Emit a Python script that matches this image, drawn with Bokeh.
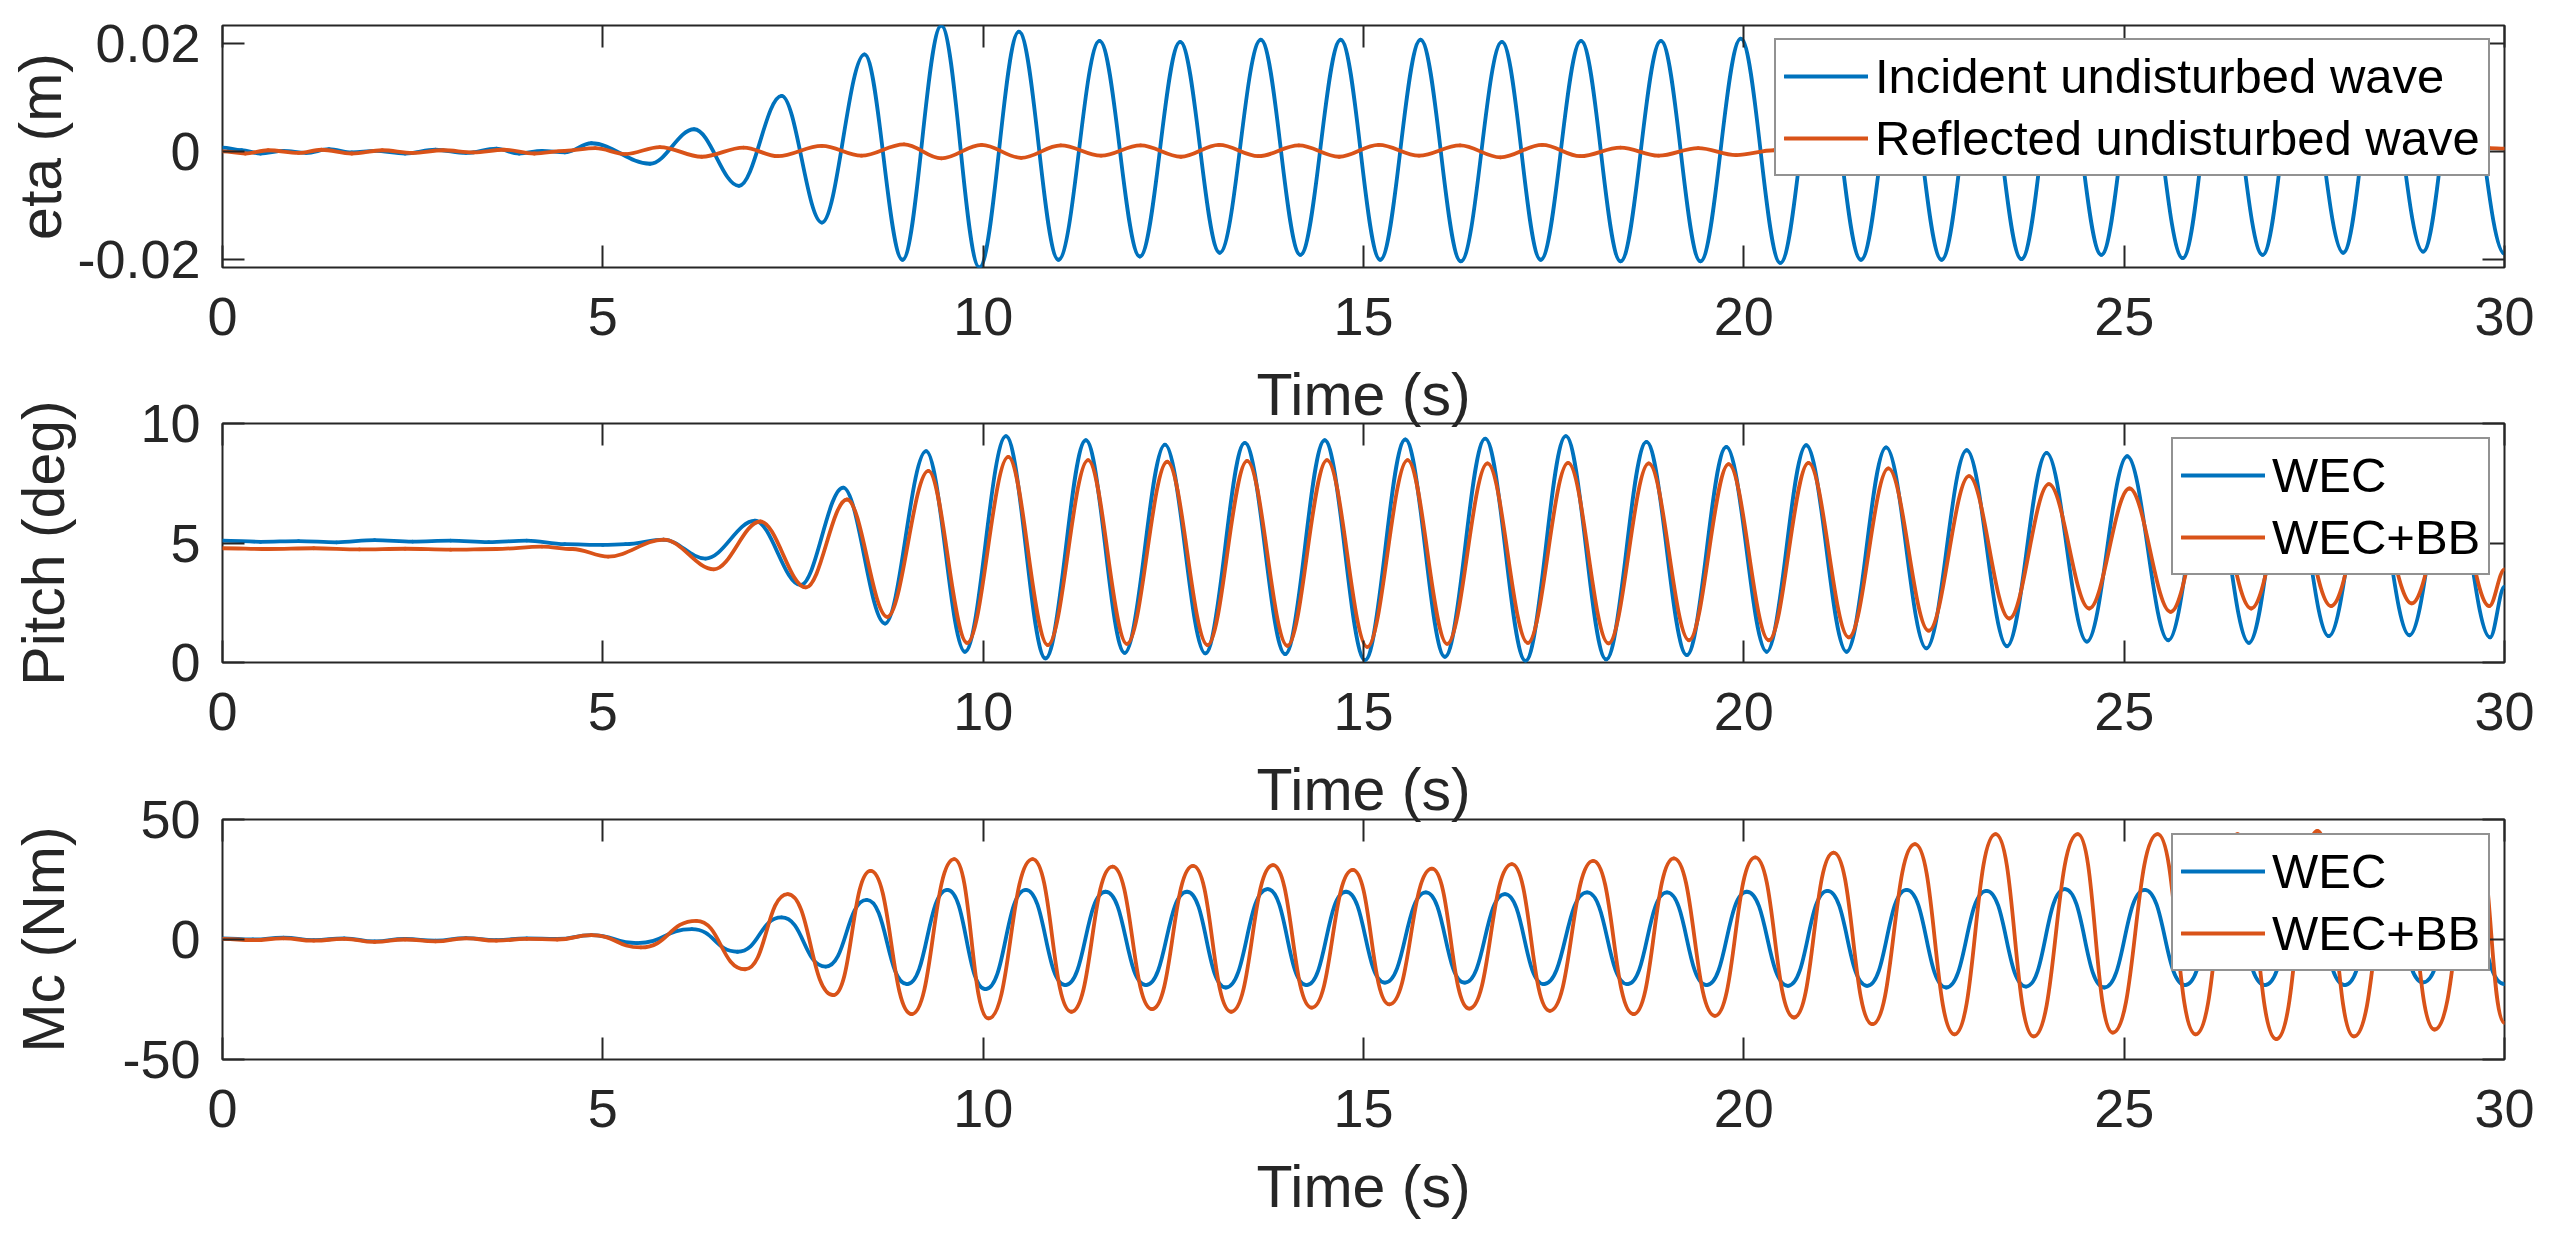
import numpy as np
from bokeh.plotting import figure
from bokeh.models import LinearAxis, FixedTicker, Legend, LegendItem, Range1d, ColumnDataSource
from bokeh.layouts import column
from bokeh.embed import file_html
from bokeh.resources import INLINE

# ---------------- data ----------------
X_TICKS = [0, 5, 10, 15, 20, 25, 30]

# Panel 1 : eta (m)
INC_T = [0.0, 0.25, 0.5, 0.8, 1.1, 1.4, 1.7, 2.0, 2.4, 2.8, 3.2, 3.6, 3.9, 4.2, 4.5,
         4.85, 5.62, 6.2, 6.79, 7.35, 7.88, 8.44, 8.94, 9.45, 9.95, 10.47, 10.99, 11.53, 12.06,
         12.59, 13.11, 13.65, 14.17, 14.70, 15.22, 15.75, 16.28, 16.82, 17.33, 17.86, 18.38,
         18.91, 19.43, 19.96, 20.48, 21.01, 21.54, 22.07, 22.60, 23.12, 23.65, 24.17, 24.70,
         25.22, 25.77, 26.28, 26.82, 27.33, 27.88, 28.38, 28.93, 29.43, 30.0]
INC_V = [0.0007, 0.0002, -0.0004, 0.0001, -0.0003, 0.0004, -0.0002, 0.0001, -0.0004, 0.0003,
         -0.0003, 0.0005, -0.0004, 0.0001, -0.0002,
         0.0015, -0.0023, 0.0041, -0.0064, 0.0103, -0.0132, 0.0180, -0.0201,
         0.0233, -0.0215, 0.0222, -0.0201, 0.0205, -0.0195, 0.0203, -0.0188,
         0.0207, -0.0192, 0.0207, -0.0201, 0.0207, -0.0204, 0.0203, -0.0201,
         0.0205, -0.0204, 0.0205, -0.0204, 0.0209, -0.0207, 0.0206, -0.0201,
         0.0205, -0.0201, 0.0205, -0.0200, 0.0205, -0.0192, 0.0205, -0.0198,
         0.0205, -0.0192, 0.0205, -0.0188, 0.0204, -0.0186, 0.0203, -0.0190]
REF_T = [0.0, 0.3, 0.6, 1.0, 1.3, 1.7, 2.1, 2.5, 2.9, 3.3, 3.7, 4.1, 4.5, 4.9, 5.3,
         5.75, 6.3, 6.85, 7.3, 7.88, 8.4, 8.96, 9.45, 9.98, 10.5,
         11.02, 11.55, 12.07, 12.6, 13.1, 13.62, 14.15, 14.68, 15.2, 15.73,
         16.27, 16.8, 17.35, 17.85, 18.38, 18.88, 19.4, 19.9, 20.4, 20.95,
         21.5, 22.0, 22.5, 23.05, 23.6, 24.1, 24.65, 25.2, 25.7, 26.25,
         26.75, 27.3, 27.8, 28.35, 28.9, 29.4, 29.8, 30.0]
REF_V = [0.0000, -0.0004, 0.0002, -0.0003, 0.0003, -0.0004, 0.0002, -0.0003, 0.0002, -0.0002,
         0.0003, -0.0004, 0.0001, 0.0006, -0.0005,
         0.0008, -0.0010, 0.0007, -0.0009, 0.0010, -0.0008, 0.0013, -0.0013, 0.0012, -0.0012,
         0.0011, -0.0008, 0.0011, -0.0010, 0.0012, -0.0009, 0.0011, -0.0010, 0.0012, -0.0008,
         0.0011, -0.0011, 0.0012, -0.0009, 0.0007, -0.0008, 0.0006, -0.0007, 0.0002, -0.0004,
         0.0003, -0.0004, 0.0003, -0.0004, 0.0003, -0.0004, 0.0003, -0.0004, 0.0003, -0.0004,
         0.0003, -0.0004, 0.0003, -0.0004, 0.0003, -0.0002, 0.0006, 0.0005]

# Panel 2 : Pitch (deg)
PW_T = [0.0, 0.5, 1.0, 1.5, 2.0, 2.5, 3.0, 3.5, 4.0, 4.5, 5.0, 5.3,
        5.8, 6.35, 7.0, 7.6, 8.16, 8.71, 9.25, 9.76,
        10.3, 10.82, 11.35, 11.86, 12.39, 12.92, 13.44, 13.97,
        14.49, 15.02, 15.55, 16.07, 16.6, 17.13, 17.66, 18.19,
        18.72, 19.25, 19.77, 20.3, 20.82, 21.35, 21.87, 22.4,
        22.93, 23.46, 23.98, 24.51, 25.04, 25.58, 26.11, 26.64,
        27.16, 27.69, 28.22, 28.75, 29.28, 29.81, 30.0]
PW_V = [5.10, 5.05, 5.08, 5.03, 5.12, 5.06, 5.10, 5.04, 5.10, 4.95, 4.92, 4.95,
        5.14, 4.35, 5.93, 3.24, 7.32, 1.63, 8.84, 0.45,
        9.47, 0.17, 9.30, 0.40, 9.12, 0.38, 9.19, 0.35,
        9.30, 0.10, 9.33, 0.24, 9.37, 0.07, 9.47, 0.13,
        9.23, 0.31, 9.02, 0.45, 9.09, 0.45, 9.00, 0.59,
        8.88, 0.68, 8.77, 0.87, 8.63, 0.93, 8.50, 0.82,
        8.50, 1.10, 8.40, 1.14, 8.40, 1.05, 3.17]
PB_T = [0.0, 0.6, 1.2, 1.8, 2.4, 3.0, 3.6, 4.2, 4.6,
        5.07, 5.8, 6.46, 7.07, 7.67, 8.21, 8.74, 9.28, 9.79,
        10.33, 10.85, 11.38, 11.89, 12.42, 12.95, 13.47, 14.0,
        14.52, 15.05, 15.58, 16.1, 16.63, 17.16, 17.69, 18.22,
        18.75, 19.28, 19.8, 20.33, 20.85, 21.38, 21.9, 22.43,
        22.96, 23.49, 24.01, 24.54, 25.07, 25.61, 26.14, 26.67,
        27.2, 27.72, 28.25, 28.78, 29.31, 29.8, 30.0]
PB_V = [4.78, 4.75, 4.78, 4.73, 4.76, 4.72, 4.75, 4.85, 4.75,
        4.43, 5.14, 3.90, 5.90, 3.14, 6.82, 1.91, 8.02, 0.82,
        8.60, 0.73, 8.47, 0.78, 8.40, 0.73, 8.44, 0.70,
        8.47, 0.65, 8.47, 0.78, 8.33, 0.82, 8.35, 0.80,
        8.33, 0.93, 8.30, 0.93, 8.35, 1.05, 8.12, 1.33,
        7.80, 1.84, 7.46, 2.26, 7.28, 2.12, 7.20, 2.26,
        7.20, 2.36, 7.10, 2.47, 7.10, 2.36, 3.90]

# Panel 3 : Mc (Nm)
MW_T = [0.0, 0.4, 0.8, 1.2, 1.6, 2.0, 2.4, 2.8, 3.2, 3.6, 4.0, 4.4,
        4.85, 5.45, 6.17, 6.77, 7.35, 7.93, 8.47, 9.0,
        9.53, 10.03, 10.56, 11.08, 11.61, 12.14, 12.68, 13.19,
        13.74, 14.25, 14.77, 15.28, 15.82, 16.33, 16.86, 17.37,
        17.94, 18.47, 18.99, 19.51, 20.04, 20.58, 21.1, 21.62,
        22.14, 22.66, 23.19, 23.71, 24.22, 24.74, 25.27, 25.8,
        26.32, 26.85, 27.38, 27.9, 28.42, 28.93, 29.45, 30.0]
MW_V = [0.5, 0.0, 0.8, -0.3, 0.5, -0.8, 0.2, -0.5, 0.6, -0.3, 0.5, 0.2,
        1.8, -1.5, 4.3, -5.1, 9.2, -11.3, 16.5, -18.6,
        20.7, -20.7, 20.7, -19.0, 19.9, -19.0, 19.9, -20.0,
        21.0, -19.0, 19.9, -18.0, 19.6, -18.0, 18.9, -18.6,
        19.6, -18.6, 19.6, -19.0, 19.9, -19.3, 20.3, -19.3,
        20.7, -20.0, 20.3, -19.6, 21.0, -20.0, 20.7, -19.0,
        20.0, -19.0, 20.0, -19.0, 20.0, -17.9, 19.5, -18.6]
MB_T = [0.0, 0.4, 0.8, 1.2, 1.6, 2.0, 2.4, 2.8, 3.2, 3.6, 4.0, 4.4,
        4.85, 5.5, 6.23, 6.87, 7.43, 8.03, 8.52, 9.06,
        9.62, 10.07, 10.65, 11.16, 11.7, 12.22, 12.76, 13.26,
        13.81, 14.32, 14.86, 15.34, 15.9, 16.39, 16.95, 17.45,
        18.02, 18.55, 19.08, 19.62, 20.15, 20.66, 21.18, 21.69,
        22.25, 22.77, 23.31, 23.81, 24.39, 24.85, 25.44, 25.94,
        26.49, 27.0, 27.54, 28.02, 28.6, 29.08, 29.65, 30.0]
MB_V = [0.3, -0.3, 0.5, -0.5, 0.3, -1.0, 0.0, -0.8, 0.5, -0.5, 0.3, 0.0,
        1.8, -3.3, 7.8, -12.4, 18.9, -23.2, 28.6, -31.1,
        33.5, -32.9, 33.5, -30.1, 30.4, -29.0, 30.7, -30.1,
        31.0, -28.4, 29.0, -27.0, 29.5, -28.8, 31.4, -29.7,
        32.8, -31.1, 33.8, -31.8, 34.2, -32.5, 36.2, -35.3,
        39.7, -39.5, 43.9, -40.4, 43.9, -38.8, 43.9, -39.5,
        43.9, -41.5, 45.3, -40.4, 42.0, -37.5, 40.0, -34.7]

# ---------------- styling ----------------
FONT = "Liberation Sans"
INK = "#262626"
BLUE = "#0072BD"
ORANGE = "#D95319"
LW = 3.8


def bez_source(t, v, k):
    t = np.asarray(t, float)
    v = np.asarray(v, float)
    dt = t[1:] - t[:-1]
    return ColumnDataSource(dict(x0=t[:-1], y0=v[:-1], x1=t[1:], y1=v[1:],
                                 cx0=t[:-1] + k * dt, cy0=v[:-1],
                                 cx1=t[1:] - k * dt, cy1=v[1:]))


def style_axis(ax, ticks, show_labels=True):
    ax.ticker = FixedTicker(ticks=ticks)
    ax.major_tick_in = 22
    ax.major_tick_out = 0
    ax.minor_tick_line_color = None
    ax.axis_line_color = None
    ax.major_tick_line_color = INK
    ax.major_tick_line_width = 2
    if show_labels:
        ax.major_label_text_font = FONT
        ax.major_label_text_font_size = "54px"
        ax.major_label_text_color = INK
        ax.major_label_standoff = 22
        ax.axis_label_text_font = FONT
        ax.axis_label_text_font_size = "59px"
        ax.axis_label_text_font_style = "normal"
        ax.axis_label_text_color = INK
    else:
        ax.major_label_text_color = None
        ax.major_label_text_font_size = "1px"
        ax.major_label_standoff = 0


def panel(y_lo, y_hi, yticks, overrides, ylabel, ylab_standoff, frame_h,
          top_b, bottom_b, series, legend_loc, pull_up):
    p = figure(frame_width=2282, frame_height=frame_h,
               x_range=Range1d(0, 30), y_range=Range1d(y_lo, y_hi),
               output_backend="svg", toolbar_location=None, tools="",
               min_border_left=222, min_border_right=30,
               min_border_top=top_b, min_border_bottom=bottom_b)
    p.grid.visible = False
    p.outline_line_color = INK
    p.outline_line_width = 2
    p.background_fill_color = None
    p.border_fill_color = None
    if pull_up:
        p.styles = {"margin-top": "-%dpx" % pull_up}

    style_axis(p.xaxis[0], X_TICKS)
    p.xaxis[0].axis_label = "Time (s)"
    p.xaxis[0].major_label_standoff = 30
    p.xaxis[0].axis_label_standoff = 24
    style_axis(p.yaxis[0], yticks)
    p.yaxis[0].axis_label = ylabel
    p.yaxis[0].axis_label_standoff = ylab_standoff
    p.yaxis[0].major_label_overrides = overrides

    top = LinearAxis()
    style_axis(top, X_TICKS, show_labels=False)
    p.add_layout(top, "above")
    right = LinearAxis()
    style_axis(right, yticks, show_labels=False)
    p.add_layout(right, "right")

    items = []
    for (t, v, k, color, label) in series:
        r = p.bezier(x0="x0", y0="y0", x1="x1", y1="y1", cx0="cx0", cy0="cy0",
                     cx1="cx1", cy1="cy1", source=bez_source(t, v, k),
                     line_color=color, line_width=LW, line_cap="round")
        items.append(LegendItem(label=label, renderers=[r]))

    leg = Legend(items=items, location=legend_loc, margin=0,
                 label_text_font=FONT, label_text_font_size="49px",
                 label_text_color="black", glyph_width=84, glyph_height=56,
                 label_height=56, label_standoff=7, padding=8, spacing=6,
                 border_line_color=INK, border_line_width=2,
                 background_fill_color="white", background_fill_alpha=1.0)
    p.add_layout(leg)
    return p


p1 = panel(-0.02154, 0.02334, [-0.02, 0, 0.02], {-0.02: "-0.02", 0: "0", 0.02: "0.02"},
           "eta (m)", 0, 242, 25, 172,
           [(INC_T, INC_V, 0.36, BLUE, "Incident undisturbed wave"),
            (REF_T, REF_V, 0.36, ORANGE, "Reflected undisturbed wave")],
           (1552, 91), 0)
p2 = panel(0, 10, [0, 5, 10], {0: "0", 5: "5", 10: "10"},
           "Pitch (deg)", 60, 239, 45, 172,
           [(PW_T, PW_V, 0.36, BLUE, "WEC"),
            (PB_T, PB_V, 0.36, ORANGE, "WEC+BB")],
           (1949, 87), 61)
p3 = panel(-50, 50, [-50, 0, 50], {-50: "-50", 0: "0", 50: "50"},
           "Mc (Nm)", 42, 240, 45, 172,
           [(MW_T, MW_V, 0.5, BLUE, "WEC"),
            (MB_T, MB_V, 0.5, ORANGE, "WEC+BB")],
           (1949, 88), 60)

layout = column(p1, p2, p3, spacing=0)
open("out.html", "w").write(file_html(layout, INLINE))
